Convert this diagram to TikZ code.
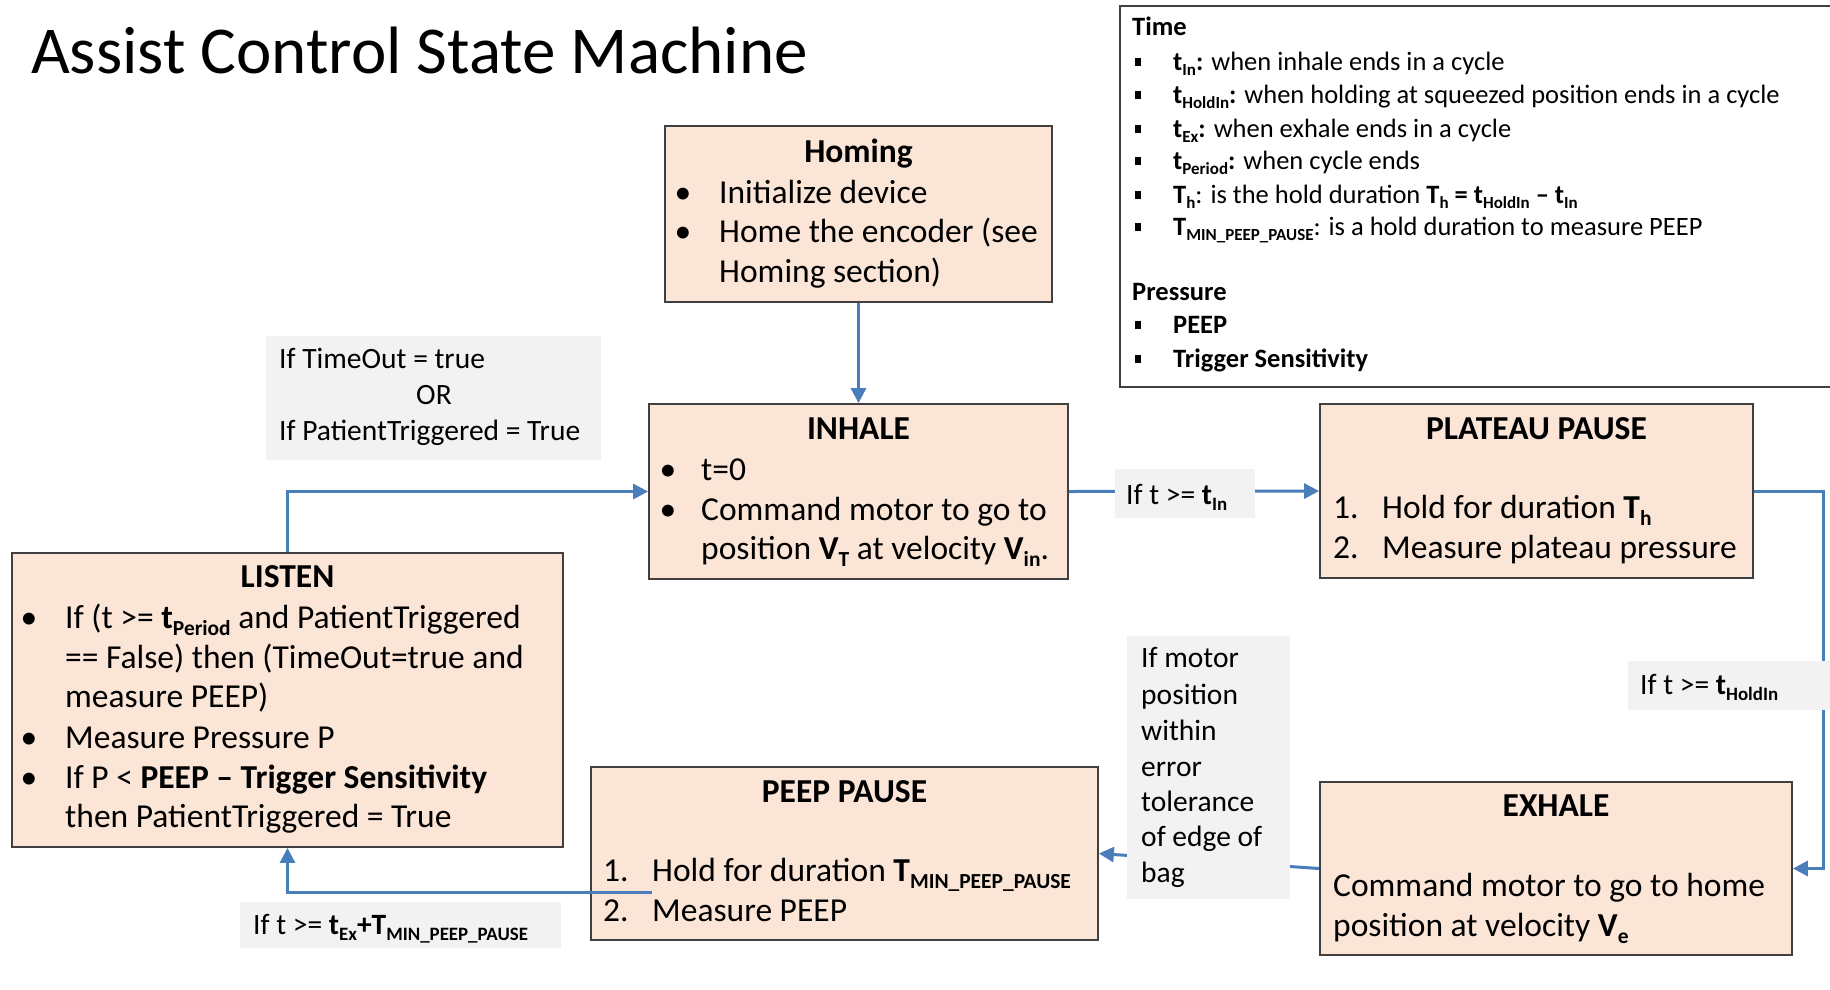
\documentclass[tikz,border=0pt]{standalone}
\usepackage{fontspec}
\usepackage{graphicx}
\setmainfont{Carlito}
\usetikzlibrary{arrows.meta}
\definecolor{peach}{HTML}{FBE5D6}
\definecolor{lgray}{HTML}{F2F2F2}
\definecolor{arrblue}{HTML}{4A7EBB}
\definecolor{bord}{HTML}{404040}
\newcommand{\lo}[1]{\raisebox{-0.22em}{\scalebox{0.64}{#1}}}
\begin{document}
\begin{tikzpicture}[x=1pt,y=-1pt,
  statebox/.style={draw=bord, line width=1.8pt, fill=peach, inner sep=0pt},
  condbox/.style={fill=lgray, inner sep=0pt},
  legendbox/.style={draw=bord, line width=1.8pt, fill=white, inner sep=0pt},
  conn/.style={draw=arrblue, line width=3pt},
  arr/.style={conn, -{Triangle[length=15pt,width=15pt]}},
  bt/.style={anchor=base west, inner sep=0pt, font=\fontsize{33.5}{40}\selectfont},
  bh/.style={anchor=base, inner sep=0pt, font=\fontsize{33.5}{40}\selectfont\bfseries},
  bb/.style={anchor=base, inner sep=0pt, font=\fontsize{33.5}{40}\selectfont},
  lt/.style={anchor=base west, inner sep=0pt, font=\fontsize{29.5}{35}\selectfont},
  gt/.style={anchor=base west, inner sep=0pt, font=\fontsize{26.5}{32}\selectfont},
  gtb/.style={gt, font=\fontsize{26.5}{32}\selectfont\bfseries},
  sq/.style={fill=black, inner sep=0pt, minimum width=6.5pt, minimum height=7.5pt},
]
\useasboundingbox (0,0) rectangle (1830,989);

% title
\node[anchor=base west, inner sep=0pt, font=\fontsize{67}{80}\selectfont] (title) at (31,73) {Assist Control State Machine};

% legend
\node[legendbox, minimum width=720pt, minimum height=381pt] (legend) at (1480,196.5) {};

% state boxes
\node[statebox, minimum width=387pt, minimum height=176pt] (homing) at (858.5,214) {};
\node[statebox, minimum width=419pt, minimum height=175pt] (inhale) at (858.5,491.5) {};
\node[statebox, minimum width=433pt, minimum height=174pt] (plateau) at (1536.5,491) {};
\node[statebox, minimum width=551pt, minimum height=294pt] (listen) at (287.5,700) {};
\node[statebox, minimum width=507pt, minimum height=173pt] (peep) at (844.5,853.5) {};
\node[statebox, minimum width=472pt, minimum height=173pt] (exhale) at (1556,868.5) {};

% connectors
\coordinate (rt) at (1823,491);
\coordinate (pstart) at (652,892);
\draw[arr] (homing.south) -- (inhale.north);
\draw[arr] (listen.north) |- (inhale.west);
\draw[arr] (inhale.east) -- (plateau.west);
\draw[arr] (plateau.east) -- (rt) |- (exhale.east);
\draw[arr] (exhale.west) -- (peep.east);
\draw[arr] (pstart) -| (listen.south);

% condition boxes
\node[condbox, minimum width=335pt, minimum height=124pt] (ctimeout) at (433.5,398) {};
\node[condbox, minimum width=140pt, minimum height=49pt] (ctin) at (1185,493.5) {};
\node[condbox, minimum width=212pt, minimum height=49pt] (cthold) at (1734,685.5) {};
\node[condbox, minimum width=163pt, minimum height=263pt] (cmotor) at (1208.5,767.5) {};
\node[condbox, minimum width=321pt, minimum height=46pt] (ctex) at (400.5,925) {};

% Homing text
\node[bh] at (858.5,162) {Homing};
\node[bb] at (683,203) {•}; \node[bt] at (719,203) {Initialize device};
\node[bb] at (683,242) {•}; \node[bt] at (719,242) {Home the encoder (see};
\node[bt] at (719,282) {Homing section)};

% Inhale text
\node[bh] at (858.5,439) {INHALE};
\node[bb] at (668,480) {•}; \node[bt] at (701,480) {t=0};
\node[bb] at (668,520) {•}; \node[bt] at (701,520) {Command motor to go to};
\node[bt] at (701,559) {position \textbf{V\lo{T}} at velocity \textbf{V\lo{in}}.};

% Plateau text
\node[bh] at (1536.5,439) {PLATEAU PAUSE};
\node[bt] at (1333,518) {1.}; \node[bt] at (1382,518) {Hold for duration \textbf{T\lo{h}}};
\node[bt] at (1333,558) {2.}; \node[bt] at (1382,558) {Measure plateau pressure};

% Listen text
\node[bh] at (287.5,587) {LISTEN};
\node[bb] at (29,628) {•}; \node[bt] at (65,628) {If (t >= \textbf{t\lo{Period}} and PatientTriggered};
\node[bt] at (65,668) {== False) then (TimeOut=true and};
\node[bt] at (65,707) {measure PEEP)};
\node[bb] at (29,748) {•}; \node[bt] at (65,748) {Measure Pressure P};
\node[bb] at (29,788) {•}; \node[bt] at (65,788) {If P < \textbf{PEEP – Trigger Sensitivity}};
\node[bt] at (65,827) {then PatientTriggered = True};

% PEEP pause text
\node[bh] at (844.5,802) {PEEP PAUSE};
\node[bt] at (603,881) {1.}; \node[bt] at (652,881) {Hold for duration \textbf{T\lo{MIN\_PEEP\_PAUSE}}};
\node[bt] at (603,921) {2.}; \node[bt] at (652,921) {Measure PEEP};

% Exhale text
\node[bh] at (1556,816) {EXHALE};
\node[bt] at (1333,896) {Command motor to go to home};
\node[bt] at (1333,936) {position at velocity \textbf{V\lo{e}}};

% condition texts
\node[lt] at (279,368) {If TimeOut = true};
\node[anchor=base, inner sep=0pt, font=\fontsize{29.5}{35}\selectfont] at (434,404) {OR};
\node[lt] at (279,440) {If PatientTriggered = True};
\node[lt] at (1126,504) {If t >= \textbf{t\lo{In}}};
\node[lt] at (1640,694) {If t >= \textbf{t\lo{HoldIn}}};
\node[lt] at (1141,667) {If motor};
\node[lt] at (1141,704) {position};
\node[lt] at (1141,740) {within};
\node[lt] at (1141,776) {error};
\node[lt] at (1141,811) {tolerance};
\node[lt] at (1141,846) {of edge of};
\node[lt] at (1141,882) {bag};
\node[lt] at (253,934) {If t >= \textbf{t\lo{Ex}+T\lo{MIN\_PEEP\_PAUSE}}};

% legend text
\node[gtb] at (1132,35) {Time};
\foreach \yy in {62,95,129,161,195,227,325,359} { \node[sq] at (1138,\yy) {}; }
\node[gt] at (1173,70) {\textbf{t\lo{In}:} when inhale ends in a cycle};
\node[gt] at (1173,103) {\textbf{t\lo{HoldIn}:} when holding at squeezed position ends in a cycle};
\node[gt] at (1173,137) {\textbf{t\lo{Ex}:} when exhale ends in a cycle};
\node[gt] at (1173,169) {\textbf{t\lo{Period}:} when cycle ends};
\node[gt] at (1173,203) {\textbf{T\lo{h}}: is the hold duration \textbf{T\lo{h} = t\lo{HoldIn} – t\lo{In}}};
\node[gt] at (1173,235) {\textbf{T\lo{MIN\_PEEP\_PAUSE}}: is a hold duration to measure PEEP};
\node[gtb] at (1132,300) {Pressure};
\node[gtb] at (1173,333) {PEEP};
\node[gtb] at (1173,367) {Trigger Sensitivity};
\end{tikzpicture}
\end{document}
